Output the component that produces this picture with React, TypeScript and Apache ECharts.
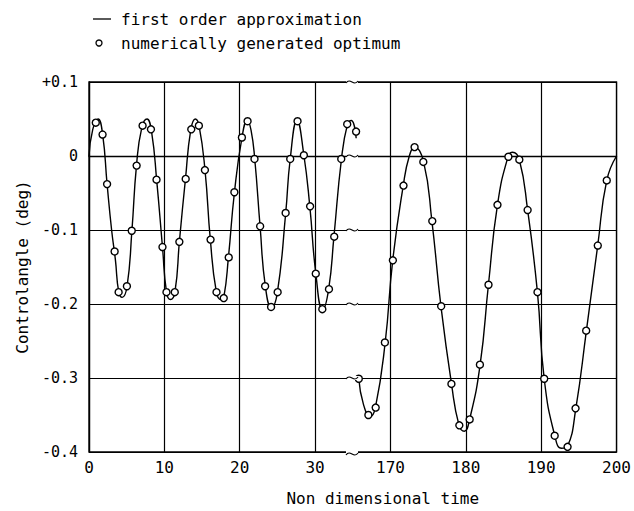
import React, { useEffect, useRef } from "react";
import * as echarts from "echarts";

// ---- data ----
const xTickLabels = ["0", "10", "20", "30", "170", "180", "190", "200"];
const yTickValues = [-0.4, -0.3, -0.2, -0.1, 0, 0.1];

// first order approximation (left part, t = 0..35.5)
const lineLeftT = [0, 0.5, 1.2, 1.8, 2.4, 3.0, 3.5, 3.95, 4.4, 5.05, 5.7, 6.3, 7.0, 7.7, 8.3, 9.0, 9.75, 10.3, 10.8, 11.4, 12.0, 12.8, 13.5, 14.1, 14.6, 15.4, 16.1, 16.9, 17.5, 17.9, 18.5, 19.3, 20.3, 21.0, 21.5, 22.0, 22.7, 23.4, 24.2, 25.0, 26.1, 26.7, 27.6, 28.5, 29.3, 30.1, 31.0, 31.8, 32.5, 33.5, 34.3, 34.8, 35.45];
const lineLeftV = [0.0, 0.036, 0.05, 0.03, -0.038, -0.1, -0.14, -0.184, -0.191, -0.176, -0.1, -0.013, 0.038, 0.05, 0.033, -0.035, -0.123, -0.185, -0.194, -0.184, -0.115, -0.031, 0.035, 0.05, 0.041, -0.02, -0.113, -0.184, -0.194, -0.19, -0.137, -0.049, 0.025, 0.048, 0.035, -0.005, -0.095, -0.176, -0.205, -0.184, -0.077, -0.004, 0.048, 0.002, -0.068, -0.159, -0.208, -0.18, -0.109, -0.004, 0.043, 0.048, 0.024];

// first order approximation (right part, t = 165.8..200)
const lineRightT = [165.8, 166.4, 167.3, 168.0, 169.3, 170.3, 171.7, 172.5, 173.2, 174.4, 175.5, 176.7, 178.1, 179.1, 179.8, 180.5, 181.9, 183.0, 184.2, 185.6, 186.2, 187.1, 188.2, 189.5, 190.4, 191.8, 192.7, 193.5, 194.6, 196.0, 197.5, 198.7, 200.0];
const lineRightV = [-0.301, -0.335, -0.352, -0.34, -0.252, -0.141, -0.04, 0.0, 0.012, -0.008, -0.088, -0.203, -0.308, -0.364, -0.372, -0.356, -0.282, -0.174, -0.066, -0.001, 0.005, -0.005, -0.073, -0.184, -0.301, -0.378, -0.395, -0.392, -0.341, -0.236, -0.121, -0.033, 0.0];

// numerically generated optimum (circles)
const optLeftT = [0.9, 1.8, 2.4, 3.4, 3.93, 5.03, 5.67, 6.32, 7.11, 8.22, 8.96, 9.75, 10.28, 11.38, 11.99, 12.83, 13.57, 14.58, 15.38, 16.13, 16.92, 17.88, 18.54, 19.29, 20.29, 21.04, 21.96, 22.71, 23.37, 24.16, 25.03, 26.09, 26.7, 27.67, 28.51, 29.34, 30.09, 30.96, 31.84, 32.54, 33.47, 34.26, 35.44];
const optLeftV = [0.045, 0.029, -0.038, -0.129, -0.184, -0.176, -0.101, -0.013, 0.041, 0.036, -0.032, -0.123, -0.184, -0.184, -0.116, -0.031, 0.036, 0.041, -0.019, -0.113, -0.184, -0.192, -0.137, -0.049, 0.025, 0.047, -0.004, -0.095, -0.176, -0.204, -0.184, -0.077, -0.004, 0.047, 0.001, -0.068, -0.159, -0.207, -0.18, -0.109, -0.004, 0.043, 0.033];
const optRightT = [165.8, 167.07, 168.04, 169.26, 170.32, 171.73, 173.2, 174.36, 175.55, 176.73, 178.09, 179.14, 180.51, 181.87, 183.01, 184.2, 185.65, 187.1, 188.2, 189.51, 190.4, 191.79, 193.5, 194.56, 195.97, 197.51, 198.7];
const optRightV = [-0.301, -0.35, -0.34, -0.252, -0.141, -0.04, 0.012, -0.008, -0.088, -0.203, -0.308, -0.364, -0.356, -0.282, -0.174, -0.066, -0.001, -0.005, -0.073, -0.184, -0.301, -0.378, -0.393, -0.341, -0.236, -0.121, -0.033];

// the time axis is broken between 35.5 and 165; the right part is shifted left
const BREAK_SHIFT = 130;
const BREAK_AT = 34.9;

const FONT = "DejaVu Sans Mono";

export default function App() {
  const ref = useRef<HTMLDivElement>(null);

  useEffect(() => {
    const chart = echarts.init(ref.current!, null, { renderer: "svg" });
    const toAxis = (t: number) => (t < 100 ? t : t - BREAK_SHIFT);
    const pairs = (ts: number[], vs: number[]) => ts.map((t, i) => [toAxis(t), vs[i]]);

    const lineStyle = { color: "#000", width: 1.4 };
    const lineSeries = (data: number[][]) => ({
      name: "first order approximation",
      type: "line",
      data,
      smooth: 0.5,
      showSymbol: false,
      symbol: "none",
      lineStyle,
      z: 2,
    });
    const scatterSeries = (data: number[][]) => ({
      name: "numerically generated optimum",
      type: "scatter",
      data,
      symbol: "circle",
      symbolSize: 7,
      itemStyle: { color: "#fff", borderColor: "#000", borderWidth: 1.4, opacity: 1 },
      z: 3,
    });

    const yFmt = (v: number) => {
      if (Math.abs(v) < 1e-6) return "0";
      const s = Math.abs(v).toFixed(1);
      return v > 0 ? "+" + s : "-" + s;
    };

    chart.setOption({
      animation: false,
      backgroundColor: "#fff",
      grid: {
        left: 89,
        top: 82,
        width: 532,
        height: 375,
        show: true,
        borderColor: "#000",
        borderWidth: 1.3,
      },
      xAxis: {
        type: "value",
        min: 0,
        max: 70,
        interval: 10,
        name: "Non dimensional time",
        nameLocation: "middle",
        nameGap: 38,
        nameTextStyle: { fontFamily: FONT, fontSize: 16, color: "#000", padding: [0, 0, 0, 60] },
        axisLine: { show: true, lineStyle: { color: "#000", width: 1.3 } },
        axisTick: { show: false },
        axisLabel: {
          margin: 7,
          fontFamily: FONT,
          fontSize: 16,
          color: "#000",
          formatter: (v: number) => xTickLabels[Math.round(v / 10)] ?? "",
        },
        splitLine: { show: true, lineStyle: { color: "#000", width: 1.2 } },
      },
      yAxis: {
        type: "value",
        min: -0.4,
        max: 0.1,
        interval: 0.1,
        name: "Controlangle (deg)",
        nameLocation: "middle",
        nameGap: 56,
        nameRotate: 90,
        nameTextStyle: { fontFamily: FONT, fontSize: 16, color: "#000" },
        axisLine: { show: true, lineStyle: { color: "#000", width: 1.3 } },
        axisTick: { show: false },
        axisLabel: {
          margin: 11,
          fontFamily: FONT,
          fontSize: 15,
          color: "#000",
          formatter: yFmt,
        },
        splitLine: { show: true, lineStyle: { color: "#000", width: 1.2 } },
      },
      series: [
        lineSeries(pairs(lineLeftT, lineLeftV)),
        lineSeries(pairs(lineRightT, lineRightV)),
        scatterSeries(pairs(optLeftT, optLeftV)),
        scatterSeries(pairs(optRightT, optRightV)),
      ],
    });

    // break marks "~" on every horizontal line at the axis break
    const marks: any[] = [];
    yTickValues.forEach((v) => {
      const p = chart.convertToPixel({ gridIndex: 0 }, [BREAK_AT, v]) as number[];
      const x = p[0];
      const y = v === -0.4 ? p[1] + 2 : p[1];
      marks.push({
        type: "rect",
        shape: { x: x - 6, y: p[1] - 2, width: 12, height: 4 },
        style: { fill: "#fff" },
        z: 10,
      });
      marks.push({
        type: "bezierCurve",
        shape: {
          x1: x - 6, y1: y + 1,
          cpx1: x - 2, cpy1: y - 5,
          cpx2: x + 2, cpy2: y + 5,
          x2: x + 6, y2: y - 1,
        },
        style: { stroke: "#000", lineWidth: 1.2, fill: "none" },
        z: 11,
      });
    });

    const legend = [
      {
        type: "line",
        shape: { x1: 93, y1: 19, x2: 111, y2: 19 },
        style: { stroke: "#000", lineWidth: 1.3 },
      },
      {
        type: "text",
        x: 121,
        y: 19,
        style: { text: "first order approximation", font: `16px "${FONT}"`, fill: "#000", verticalAlign: "middle" },
      },
      {
        type: "circle",
        shape: { cx: 99, cy: 43, r: 3 },
        style: { fill: "#fff", stroke: "#000", lineWidth: 1.3 },
      },
      {
        type: "text",
        x: 121,
        y: 43,
        style: { text: "numerically generated optimum", font: `16px "${FONT}"`, fill: "#000", verticalAlign: "middle" },
      },
    ];

    chart.setOption({ graphic: [...legend, ...marks] });

    return () => chart.dispose();
  }, []);

  return (
    <div
      ref={ref}
      style={{ position: "fixed", left: 0, top: 0, width: 634, height: 511, background: "#fff" }}
    />
  );
}
